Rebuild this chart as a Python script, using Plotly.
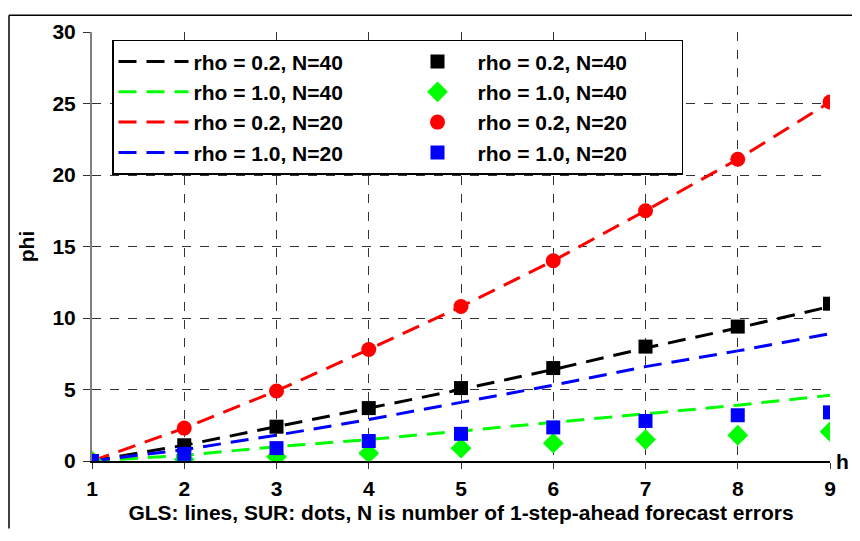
import plotly.graph_objects as go

h = [1, 2, 3, 4, 5, 6, 7, 8, 9]
y_ticks = [0, 5, 10, 15, 20, 25, 30]

# GLS (lines)
gls_r02_n40 = [0, 1.1, 2.4, 3.7, 5.0, 6.4, 7.9, 9.3, 10.8]
gls_r10_n40 = [0, 0.4, 1.0, 1.5, 2.1, 2.7, 3.3, 3.9, 4.6]
gls_r02_n20 = [0, 2.3, 4.9, 7.8, 10.8, 14.0, 17.5, 21.1, 25.1]
gls_r10_n20 = [0, 0.8, 1.8, 2.9, 4.1, 5.3, 6.6, 7.7, 8.9]

# SUR (dots)
sur_r02_n40 = [0, 1.1, 2.4, 3.7, 5.1, 6.5, 8.0, 9.4, 11.0]
sur_r10_n40 = [0, 0.1, 0.3, 0.55, 0.9, 1.25, 1.5, 1.8, 2.05]
sur_r02_n20 = [0, 2.3, 4.9, 7.8, 10.8, 14.0, 17.5, 21.1, 25.1]
sur_r10_n20 = [0, 0.5, 0.9, 1.4, 1.9, 2.35, 2.8, 3.2, 3.4]

labels = ["rho = 0.2, N=40", "rho = 1.0, N=40", "rho = 0.2, N=20", "rho = 1.0, N=20"]
colors = ["#000000", "#00FF00", "#FF0000", "#0000FF"]
symbols = ["square", "diamond", "circle", "square"]
msizes = [14, 16, 15, 14]

gls = [gls_r02_n40, gls_r10_n40, gls_r02_n20, gls_r10_n20]
sur = [sur_r02_n40, sur_r10_n40, sur_r02_n20, sur_r10_n20]

fig = go.Figure()
for i in range(4):
    fig.add_trace(go.Scatter(
        x=h, y=gls[i], mode="lines", name="<b>" + labels[i] + "</b>",
        line=dict(color=colors[i], width=3, dash="18px,10px"),
        legendrank=2 * i + 1,
    ))
for i in range(4):
    fig.add_trace(go.Scatter(
        x=h, y=sur[i], mode="markers", name="<b>" + labels[i] + "</b>",
        marker=dict(color=colors[i], symbol=symbols[i], size=msizes[i], line=dict(width=0)),
        legendrank=2 * i + 2,
    ))

font_family = "Arial, Liberation Sans, sans-serif"
W, H = 844, 525
L, R, T, B = 84, 22, 18, 69
pw, ph = W - L - R, H - T - B

fig.update_layout(
    width=W, height=H,
    margin=dict(l=L, r=R, t=T, b=B),
    paper_bgcolor="white", plot_bgcolor="white",
    font=dict(family=font_family, color="black", size=21),
    showlegend=True,
    legend=dict(
        orientation="h",
        itemwidth=70,
        entrywidth=199, entrywidthmode="pixels",
        x=20 / pw, y=1 - 8 / ph, xanchor="left", yanchor="top",
        bgcolor="white", bordercolor="black", borderwidth=1.5,
        font=dict(family=font_family, size=21, color="black"),
        traceorder="normal",
    ),
    xaxis=dict(
        range=[1, 9], tickvals=h, ticktext=["<b>%d</b>" % v for v in h],
        showgrid=True, gridcolor="#333333", griddash="dash", gridwidth=1,
        showline=True, linecolor="black", linewidth=1.5,
        ticks="outside", ticklen=6, tickcolor="#333333",
        tickfont=dict(family=font_family, size=21),
        ticklabelstandoff=2,
        zeroline=False,
        title=dict(text="<b>GLS: lines, SUR: dots, N is number of 1-step-ahead forecast errors</b>",
                   font=dict(family=font_family, size=21), standoff=6),
    ),
    yaxis=dict(
        range=[0, 30], tickvals=y_ticks, ticktext=["<b>%d</b>" % v for v in y_ticks],
        showgrid=True, gridcolor="#333333", griddash="dash", gridwidth=1,
        showline=True, linecolor="#808080", linewidth=2,
        ticks="outside", ticklen=7, tickcolor="#333333",
        tickfont=dict(family=font_family, size=21),
        ticklabelstandoff=3,
        zeroline=False,
        title=dict(text="<b>phi</b>", font=dict(family=font_family, size=21), standoff=12),
    ),
    annotations=[dict(
        text="<b>h</b>", xref="paper", yref="paper", x=(W - 1 - L) / pw, y=0.0,
        xanchor="right", yanchor="middle",
        showarrow=False, font=dict(family=font_family, size=21),
    )],
    shapes=[
        dict(type="line", xref="paper", yref="paper", x0=-(L - 1) / pw, x1=(W - L) / pw,
             y0=(ph + T - 1) / ph, y1=(ph + T - 1) / ph, line=dict(color="black", width=1.5)),
        dict(type="line", xref="paper", yref="paper", x0=-(L - 1) / pw, x1=-(L - 1) / pw,
             y0=-B / ph, y1=(ph + T - 1) / ph, line=dict(color="black", width=1.5)),
    ],
)

fig.write_html("out.html")
